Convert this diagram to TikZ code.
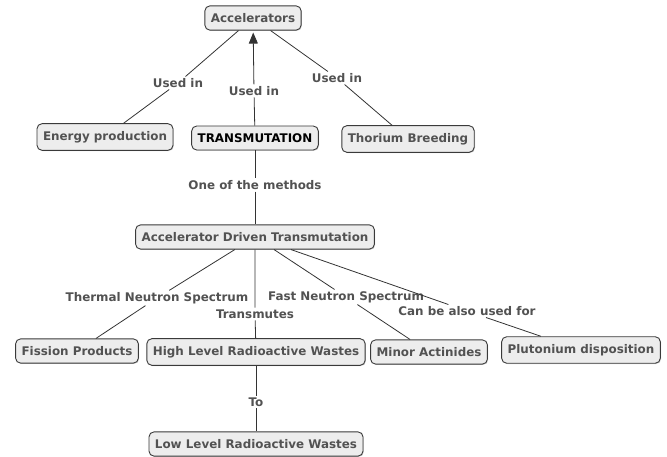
\documentclass[tikz,border=0pt]{standalone}
\usepackage{fontspec}
\setmainfont{DejaVu Sans}
\usepackage{xcolor}
\definecolor{colorConceptFill}{HTML}{EDEDED}
\definecolor{colorConceptLine}{HTML}{3A3A3A}
\colorlet{colorText}{black!68}
\colorlet{colorLink}{black!80}
\usepackage{tikz}
\usetikzlibrary{arrows.meta, positioning, shadows}
\tikzset{concept/.style={draw=colorConceptLine, fill=colorConceptFill, rounded corners=5pt, line width=0.9pt,
    inner xsep=6pt, inner ysep=7.5pt, text=colorText, font=\bfseries\fontsize{11.9}{13}\selectfont,
    drop shadow={shadow xshift=0.8pt, shadow yshift=-0.8pt, opacity=0.35}},
  linkphrase/.style={fill=white, inner sep=1.5pt, text=colorText, font=\bfseries\fontsize{11.9}{13}\selectfont}}

\begin{document}
\begin{tikzpicture}[x=1pt, y=-1pt, >={Triangle[length=11pt, width=9pt]}, line width=0.8pt, colorLink]
\useasboundingbox (0,0) rectangle (667,457);
% concepts
\node[concept] (acc) at (253,18) {Accelerators};
\node[concept] (energy) at (105,137) {Energy production};
\node[concept, text=black] (trans) at (255,138) {TRANSMUTATION};
\node[concept] (thorium) at (408,139) {Thorium Breeding};
\node[concept] (adt) at (255,237) {Accelerator Driven Transmutation};
\node[concept] (fission) at (77,351) {Fission Products};
\node[concept] (hlrw) at (256,352) {High Level Radioactive Wastes};
\node[concept] (minor) at (429,352) {Minor Actinides};
\node[concept] (pluto) at (581,350) {Plutonium disposition};
\node[concept] (llrw) at (256,444) {Low Level Radioactive Wastes};
% link phrases
\node[linkphrase] (usedL) at (178,83) {Used in};
\node[linkphrase] (usedM) at (254,91) {Used in};
\node[linkphrase] (usedR) at (337,78) {Used in};
\node[linkphrase] (method) at (255,185) {One of the methods};
\node[linkphrase] (thermal) at (157,298) {Thermal Neutron Spectrum};
\node[linkphrase] (fast) at (346,297) {Fast Neutron Spectrum};
\node[linkphrase] (transmutes) at (255,314) {Transmutes};
\node[linkphrase] (canbe) at (467,311) {Can be also used for};
\node[linkphrase] (to) at (256,402) {To};
% connections
\draw (energy) -- (usedL) -- (acc);
\draw (trans) -- (usedM);
\draw[->, shorten >=2pt] (usedM) -- (acc);
\draw (thorium) -- (usedR) -- (acc);
\draw (trans) -- (method) -- (adt);
\draw (adt) -- (thermal) -- (fission);
\draw (adt) -- (transmutes) -- (hlrw);
\draw (adt) -- (fast) -- (minor);
\draw (adt) -- (canbe) -- (pluto);
\draw (hlrw) -- (to) -- (llrw);
\end{tikzpicture}
\end{document}
